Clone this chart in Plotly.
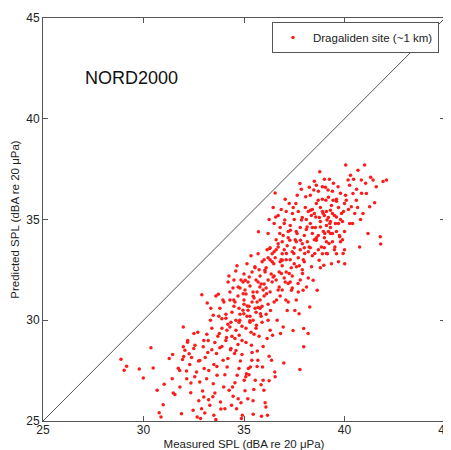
import plotly.graph_objects as go

# Measured SPL (x) and predicted SPL (y), dBA re 20 uPa
measured = [
    28.88, 29.04, 29.16, 29.79, 29.99, 30.37, 30.48, 30.68, 30.98, 30.87, 30.78, 31.03, 31.28, 31.45, 31.43,
    31.48, 31.56, 31.73, 31.81, 31.89, 31.98, 31.98, 32.06, 31.94, 32.14, 32.19, 32.27, 32.36, 32.39, 32.51,
    32.47, 32.56, 32.64, 32.67, 32.74, 32.80, 32.84, 32.89, 32.90, 32.94, 32.97, 33.00, 33.02, 33.07, 33.14,
    33.17, 33.22, 33.24, 33.30, 33.33, 33.40, 33.47, 33.47, 33.50, 33.55, 33.60, 33.63, 33.66, 33.72, 33.77,
    33.80, 33.83, 33.90, 33.96, 33.99, 34.05, 34.10, 34.13, 34.16, 34.21, 34.26, 34.30, 34.33, 34.38, 34.43,
    34.46, 34.49, 34.53, 34.59, 34.63, 34.66, 34.71, 34.71, 34.76, 34.79, 34.82, 34.87, 34.92, 34.96, 34.99,
    35.01, 35.06, 35.09, 35.12, 35.16, 35.19, 35.22, 35.26, 35.29, 35.32, 35.37, 35.39, 35.46, 35.46, 35.49,
    35.54, 35.56, 35.62, 35.66, 35.69, 35.70, 35.72, 35.79, 35.82, 35.87, 35.92, 35.95, 35.99, 36.04, 36.09,
    36.12, 36.17, 36.20, 36.25, 36.28, 36.32, 36.37, 36.42, 36.45, 36.48, 36.53, 36.55, 36.55, 36.58, 36.62,
    36.65, 36.70, 36.75, 36.78, 36.82, 36.86, 36.91, 36.95, 36.98, 37.03, 37.08, 37.11, 37.15, 37.20, 37.25,
    37.28, 37.31, 37.36, 37.41, 37.44, 37.48, 37.53, 37.58, 37.61, 37.64, 37.69, 37.74, 37.78, 37.78, 37.81,
    37.86, 37.91, 37.94, 37.97, 37.97, 38.02, 38.07, 38.11, 38.14, 38.19, 38.24, 38.27, 38.31, 38.36, 38.40,
    38.44, 38.47, 38.52, 38.57, 38.60, 38.64, 38.69, 38.74, 38.77, 38.80, 38.85, 38.90, 38.94, 38.97, 39.02,
    39.07, 39.10, 39.13, 39.18, 39.23, 39.27, 39.30, 39.35, 39.40, 39.43, 39.52, 39.60, 39.68, 39.76, 39.85,
    39.93, 40.01, 40.06, 40.09, 40.18, 40.26, 40.34, 40.42, 40.51, 40.59, 40.67, 40.75, 40.84, 40.92, 41.00,
    41.09, 41.17, 41.25, 41.42, 41.50, 41.58, 41.78, 41.80, 41.92, 42.09,
    33.6, 33.8, 34.0, 34.2, 34.4, 34.6, 34.8, 34.9, 35.0, 35.1, 34.7, 34.5, 34.3, 34.1, 33.9,
    34.6, 35.2, 35.3, 35.4, 35.5, 35.6, 35.7, 35.8, 35.9, 35.1, 35.3, 34.9, 34.7, 35.5, 35.0,
    35.8, 36.0, 36.1, 36.2, 36.3, 36.4, 36.5, 36.6, 36.7, 36.8, 36.9, 37.0, 37.1, 37.2, 36.4,
    36.6, 36.8, 37.0, 36.2, 36.0, 35.9, 35.7, 36.5, 36.9, 37.3, 37.4, 37.5, 37.6, 37.7, 37.8,
    37.9, 38.0, 38.1, 38.2, 38.3, 38.4, 38.5, 38.6, 38.7, 38.8, 38.9, 39.0, 39.1, 39.2, 39.3,
    39.4, 39.5, 39.6, 39.7, 39.8, 39.9, 39.2, 38.9, 38.6, 39.0, 39.3, 39.1, 38.4, 38.8, 39.6,
    32.0, 32.3, 32.5, 32.8, 33.0, 33.2, 33.4, 33.5, 33.7, 33.9, 34.1, 34.2, 32.7, 32.2, 31.8,
    34.3, 34.5, 34.8, 35.0, 35.2, 35.4, 35.6, 35.8, 36.0, 36.2, 35.3, 35.6, 35.9, 36.1, 36.3,
    34.4, 34.6, 34.9, 35.1, 35.4,
    36.3, 36.5, 36.7, 36.9, 37.1, 37.3, 37.5, 37.7, 37.9, 38.0, 38.2, 37.4, 37.6, 37.8, 37.2,
    38.3, 38.5, 38.7, 39.0, 39.4, 39.6, 39.8, 40.0, 40.2, 40.4, 40.0, 39.7, 40.3, 40.6, 40.8,
    35.15, 35.35, 35.55, 35.75, 35.95, 36.15, 36.35, 35.45, 35.65, 35.85,
    36.55, 36.75, 36.95, 37.15, 37.35, 37.55, 37.75, 37.95, 37.05, 36.85,
    38.15, 38.35, 38.55, 38.75, 38.95, 39.15, 39.35, 39.55, 39.75, 39.95,
    33.15, 33.35, 33.55, 33.75, 33.95, 34.15, 34.35, 34.55, 34.75, 34.95,
    32.15, 32.35, 32.55, 32.75, 33.05, 33.25, 33.45, 33.65, 33.85, 34.05,
    34.55, 34.75, 35.05, 35.25, 35.45, 35.65, 35.85, 36.05, 36.25, 34.85,
    36.25, 36.45, 36.85, 37.05, 37.45, 37.65, 37.85, 38.05, 38.25, 37.25,
    39.05, 39.25, 39.45, 40.05, 40.25, 40.45, 40.65, 40.85, 41.05, 41.30,
    34.25, 34.45, 34.65, 34.85, 35.05, 35.25, 35.45, 35.65, 35.85, 36.05,
    34.35, 34.55, 34.75, 34.95, 35.15, 35.35, 35.55, 35.75, 35.95, 36.15,
    36.1, 36.3, 36.5, 36.7, 36.9, 37.1, 37.3, 37.5, 37.7, 37.9,
    36.2, 36.4, 36.6, 36.8, 37.0, 37.2, 37.4, 37.6, 37.8, 38.0,
    38.1, 38.3, 38.5, 38.7, 38.9, 39.1, 39.3, 39.5, 39.7, 39.9,
    38.2, 38.4, 38.6, 38.8, 39.0, 39.2, 39.4, 39.6, 39.8, 40.0,
]
predicted = [
    28.06, 27.52, 27.72, 27.58, 27.14, 28.64, 27.63, 26.52, 25.81, 25.20, 25.41, 26.82, 28.10, 28.30, 27.10,
    26.39, 26.31, 27.62, 26.69, 25.36, 29.67, 28.68, 28.51, 28.05, 27.48, 28.91, 28.34, 26.89, 28.15, 29.34,
    25.53, 28.76, 27.43, 25.20, 27.98, 26.94, 25.12, 25.61, 31.27, 26.49, 28.68, 26.19, 27.60, 28.15, 27.10,
    30.86, 28.99, 26.06, 25.78, 30.00, 28.54, 30.25, 26.85, 25.28, 26.39, 25.07, 28.35, 27.27, 31.29, 29.34,
    28.64, 25.94, 30.08, 28.01, 26.69, 25.61, 30.30, 29.14, 27.68, 31.90, 26.52, 29.67, 28.54, 25.78, 26.69,
    26.23, 31.01, 28.35, 32.45, 25.61, 27.27, 26.11, 31.65, 29.26, 30.00, 27.98, 25.12, 25.28, 31.32, 30.32,
    27.02, 31.98, 27.19, 27.35, 30.71, 26.11, 27.60, 32.15, 29.97, 27.68, 28.76, 28.01, 31.19, 25.33, 26.56,
    32.65, 27.02, 29.75, 28.48, 28.01, 30.63, 34.39, 31.65, 30.32, 25.23, 27.68, 27.02, 26.52, 32.48, 25.70,
    31.32, 25.28, 30.00, 28.21, 33.56, 30.48, 28.01, 29.26, 32.15, 32.81, 27.43, 27.19, 36.32, 35.13, 31.01,
    30.00, 33.64, 31.65, 34.30, 29.34, 32.32, 32.98, 29.67, 27.88, 34.97, 31.01, 33.31, 30.48, 31.82, 32.32,
    33.97, 34.47, 31.49, 35.30, 29.49, 33.31, 30.48, 35.79, 32.65, 34.30, 31.82, 30.32, 27.55, 36.79, 33.97,
    34.97, 32.32, 31.49, 28.68, 29.59, 33.31, 36.13, 31.65, 34.63, 29.34, 33.64, 30.66, 35.46, 32.65, 34.30,
    31.98, 36.46, 33.31, 35.13, 33.97, 31.49, 35.96, 32.98, 37.37, 34.63, 33.64, 36.63, 35.30, 32.73, 34.30,
    35.96, 33.31, 34.97, 36.46, 33.81, 34.80, 35.46, 32.81, 34.30, 35.96, 33.64, 35.13, 36.63, 34.14, 35.30,
    33.31, 32.81, 37.70, 35.96, 36.96, 34.80, 35.63, 36.29, 35.30, 35.96, 37.45, 33.64, 36.96, 35.30, 37.70,
    36.29, 34.30, 35.63, 36.96, 35.83, 36.63, 34.14, 33.78, 36.88, 36.96,
    31.2, 30.6, 30.9, 29.8, 30.4, 29.5, 30.3, 29.7, 30.8, 31.3, 31.2, 32.0, 31.4, 30.1, 29.6,
    30.0, 30.5, 31.7, 30.9, 31.1, 30.4, 31.9, 31.0, 30.7, 29.6, 29.9, 29.0, 28.8, 29.3, 32.3,
    32.2, 31.8, 32.6, 33.1, 31.4, 32.9, 33.4, 32.0, 33.8, 31.2, 32.7, 33.5, 32.4, 34.1, 31.9,
    34.0, 34.6, 34.8, 34.3, 33.0, 32.9, 33.3, 30.9, 31.5, 33.0, 32.2, 33.6, 34.4, 33.1, 34.6,
    33.8, 34.2, 35.0, 33.4, 34.8, 35.5, 34.0, 35.8, 33.5, 34.9, 35.4, 33.6, 34.7, 35.1, 34.6,
    33.9, 35.2, 34.4, 35.6, 33.9, 34.9, 36.1, 36.0, 36.7, 34.1, 34.9, 35.4, 33.2, 32.6, 33.3,
    28.2, 27.8, 28.6, 28.0, 29.0, 28.4, 29.6, 27.8, 29.2, 28.7, 29.0, 28.1, 29.4, 29.0, 27.5,
    31.0, 30.7, 31.6, 31.0, 31.9, 32.4, 32.0, 30.6, 31.2, 30.8, 30.2, 29.6, 29.9, 30.3, 29.5,
    29.2, 28.5, 28.3, 28.9, 28.4,
    33.6, 34.8, 35.2, 33.3, 35.4, 34.7, 35.0, 35.4, 35.1, 32.9, 32.1, 31.6, 31.0, 32.0, 30.9,
    36.2, 36.9, 36.4, 37.0, 36.4, 36.0, 35.0, 34.4, 35.5, 34.8, 33.5, 32.9, 37.2, 36.5, 35.0,
    32.8, 33.2, 32.6, 32.5, 31.5, 33.5, 32.3, 30.0, 31.4, 31.8,
    33.1, 32.4, 34.2, 33.7, 32.6, 34.0, 32.7, 33.0, 31.9, 33.0,
    33.9, 35.2, 34.6, 35.1, 34.4, 33.3, 35.7, 34.8, 34.2, 35.4,
    29.3, 30.6, 28.9, 30.2, 31.0, 29.5, 28.6, 30.9, 29.9, 30.5,
    27.1, 26.4, 27.2, 26.0, 25.4, 27.5, 26.2, 27.7, 25.6, 27.3,
    26.9, 27.6, 26.5, 27.3, 26.0, 27.7, 26.8, 25.9, 27.0, 25.9,
    35.0, 35.6, 35.5, 36.0, 35.6, 36.2, 36.5, 35.6, 36.6, 35.8,
    36.6, 37.0, 36.8, 36.2, 36.7, 37.0, 35.6, 36.3, 36.8, 37.1,
    32.2, 31.6, 32.7, 32.0, 31.5, 30.7, 31.4, 30.9, 30.2, 32.4,
    29.9, 29.1, 30.6, 31.9, 30.2, 29.4, 30.6, 29.2, 28.7, 29.1,
    31.6, 33.0, 32.2, 31.5, 33.9, 33.0, 31.9, 32.8, 31.4, 32.5,
    32.0, 33.3, 33.5, 32.9, 32.1, 34.4, 33.4, 33.9, 33.5, 33.6,
    34.5, 33.6, 35.3, 34.2, 33.3, 33.9, 34.3, 33.5, 34.8, 34.0,
    35.4, 34.6, 34.1, 35.6, 35.2, 34.4, 35.3, 35.9, 36.3, 35.8,
]

axis_range = [25, 45]
tick_vals = [25, 30, 35, 40, 45]
series_name = "Dragaliden site (~1 km)"
model_label = "NORD2000"

font_family = "Liberation Sans, Arial, sans-serif"

fig = go.Figure()

fig.add_trace(go.Scatter(
    x=axis_range, y=axis_range, mode="lines",
    line=dict(color="#555555", width=1), showlegend=False, hoverinfo="skip",
))

fig.add_trace(go.Scatter(
    x=measured, y=predicted, mode="markers", name=series_name,
    marker=dict(color="#ff1a1a", size=3.5, line=dict(width=0)),
))

axis_common = dict(
    range=axis_range, tickvals=tick_vals, ticks="inside", ticklen=5,
    tickcolor="#555555", showline=True, linecolor="#555555", linewidth=1,
    mirror="ticks", showgrid=False, zeroline=False, automargin=False,
    ticklabeloverflow="allow",
    tickfont=dict(size=12, color="#222222", family=font_family),
)

fig.update_xaxes(
    **axis_common,
    ticklabelstandoff=-2,
    title=dict(text="Measured SPL (dBA re 20 μPa)", font=dict(size=11.5, color="#222222", family=font_family), standoff=7),
)
fig.update_yaxes(
    **axis_common,
    title=dict(text="Predicted SPL (dBA re 20 μPa)", font=dict(size=11.5, color="#222222", family=font_family), standoff=4),
)

fig.add_annotation(
    x=27.0, y=42.0, xref="x", yref="y", text=model_label, showarrow=False,
    xanchor="left", yanchor="middle", font=dict(size=18, color="#111111", family=font_family),
)

# page body has an 8px margin, so the figure is sized to fit the 451x450 window
fig.update_layout(
    width=443, height=442,
    margin=dict(l=35, r=6, t=10, b=29),
    paper_bgcolor="white", plot_bgcolor="white",
    font=dict(family=font_family, size=12, color="#222222"),
    legend=dict(
        x=0.985, y=0.99, xanchor="right", yanchor="top",
        bgcolor="white", bordercolor="#555555", borderwidth=1,
        font=dict(size=11.5, color="#222222", family=font_family),
        itemwidth=30, tracegroupgap=0,
    ),
)

fig.write_html("out.html")
